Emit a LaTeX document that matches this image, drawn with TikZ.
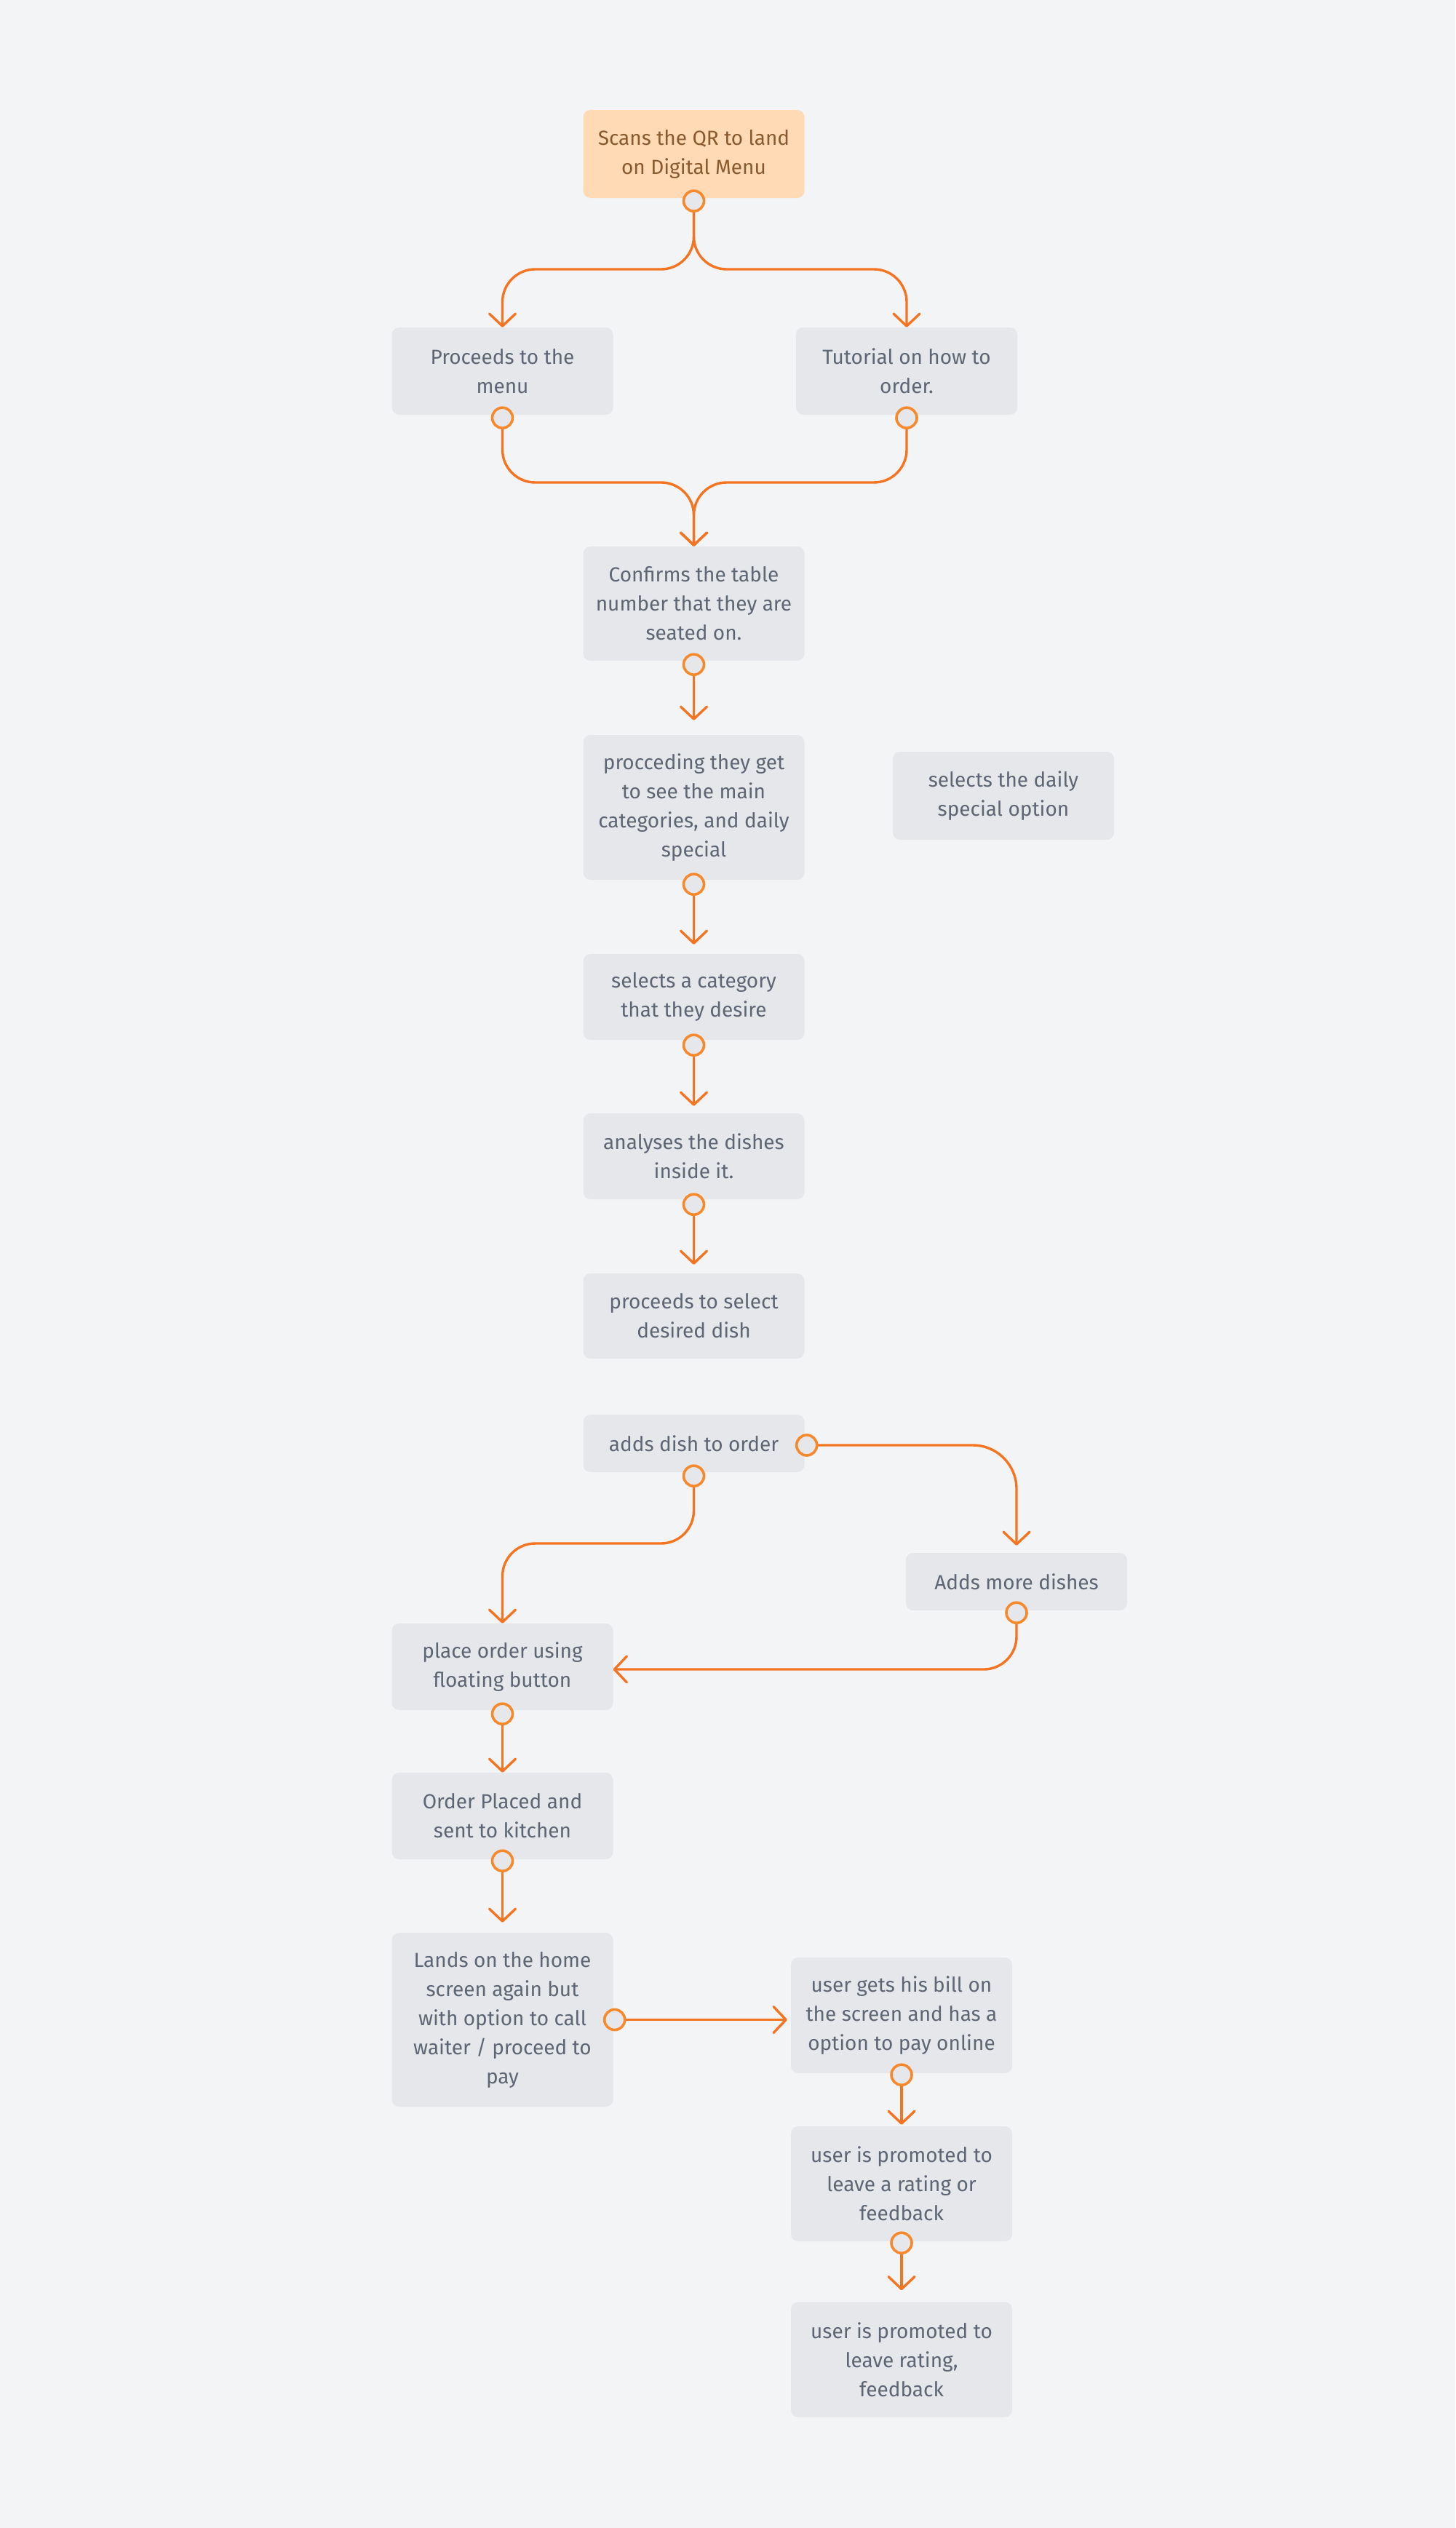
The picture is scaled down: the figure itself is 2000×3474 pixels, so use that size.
\documentclass[tikz,border=0pt]{standalone}
\usepackage{fontspec}
\setmainfont{Fira Sans}
\usetikzlibrary{arrows.meta}
\definecolor{bgc}{HTML}{F3F4F6}
\definecolor{boxfill}{HTML}{E5E7EB}
\definecolor{txt}{HTML}{5E6573}
\definecolor{startfill}{HTML}{FFDAB5}
\definecolor{starttxt}{HTML}{8A5A2E}
\definecolor{ln}{HTML}{F47421}
\definecolor{portc}{HTML}{F6892C}
\begin{document}
\begin{tikzpicture}[x=1pt,y=-1pt,
  box/.style={fill=boxfill, rounded corners=10pt, minimum width=304pt, inner sep=0pt,
    align=center, text=txt, font=\fontsize{28}{40}\selectfont},
  startbox/.style={box, fill=startfill, text=starttxt},
  conn/.style={draw=ln, line width=3.4pt, rounded corners=45pt,
    -{Straight Barb[length=17pt,width=36pt,round]}},
  port/.style={circle, draw=portc, fill=boxfill, line width=3.6pt, minimum size=28pt, inner sep=0pt}]
\fill[bgc] (0,0) rectangle (2000,3474);
\useasboundingbox (0,0) rectangle (2000,3474);

% boxes
\node[startbox, minimum height=121pt] (A) at (953.5,211.5) {Scans the QR to land\\on Digital Menu};
\node[box, minimum height=120pt] (B) at (690.5,510) {Proceeds to the\\menu};
\node[box, minimum height=120pt] (C) at (1246,510) {Tutorial on how to\\order.};
\node[box, minimum height=157pt] (D) at (953.5,829.5) {Confirms the table\\number that they are\\seated on.};
\node[box, minimum height=199pt] (E) at (953.5,1109.5) {procceding they get\\to see the main\\categories, and daily\\special};
\node[box, minimum height=121pt] (F) at (1379,1093.5) {selects the daily\\special option};
\node[box, minimum height=118pt] (G) at (953.5,1370) {selects a category\\that they desire};
\node[box, minimum height=118pt] (H) at (953.5,1589) {analyses the dishes\\inside it.};
\node[box, minimum height=117pt] (I) at (953.5,1808.5) {proceeds to select\\desired dish};
\node[box, minimum height=79pt] (J) at (953.5,1983.5) {adds dish to order};
\node[box, minimum height=79pt] (K) at (1397,2173.5) {Adds more dishes};
\node[box, minimum height=119pt] (L) at (690.5,2290.5) {place order using\\floating button};
\node[box, minimum height=119pt] (M) at (690.5,2495.5) {Order Placed and\\sent to kitchen};
\node[box, minimum height=239pt] (N) at (690.5,2775.5) {Lands on the home\\screen again but\\with option to call\\waiter / proceed to\\pay};
\node[box, minimum height=159pt] (O) at (1239,2769.5) {user gets his bill on\\the screen and has a\\option to pay online};
\node[box, minimum height=158pt] (P) at (1239,3001) {user is promoted to\\leave a rating or\\feedback};
\node[box, minimum height=158pt] (Q) at (1239,3242.5) {user is promoted to\\leave rating,\\feedback};

% port positions
\coordinate (Ap) at ([yshift=-4pt]A.south);
\coordinate (Bp) at ([yshift=-4pt]B.south);
\coordinate (Cp) at ([yshift=-4pt]C.south);
\coordinate (Dp) at ([yshift=-5pt]D.south);
\coordinate (Ep) at ([yshift=-6pt]E.south);
\coordinate (Gp) at ([yshift=-7pt]G.south);
\coordinate (Hp) at ([yshift=-7pt]H.south);
\coordinate (Jp) at ([yshift=-5pt]J.south);
\coordinate (Jr) at ([xshift=3pt,yshift=-2.5pt]J.east);
\coordinate (Kp) at ([yshift=-3pt]K.south);
\coordinate (Lp) at ([yshift=-5pt]L.south);
\coordinate (Mp) at ([yshift=-2pt]M.south);
\coordinate (Nr) at ([xshift=2pt]N.east);
\coordinate (Op) at ([yshift=-2pt]O.south);
\coordinate (Pp) at ([yshift=-2pt]P.south);

% bend levels
\coordinate (yA) at (0,370);
\coordinate (yB) at (0,663);
\coordinate (yJ) at (0,2121);
\coordinate (yK) at (0,2294);
\coordinate (Oin) at ([xshift=-5pt]O.west);

% connectors
\draw[conn] (Ap) -- (Ap |- yA) -- (B.north |- yA) -- (B.north);
\draw[conn] (Ap) -- (Ap |- yA) -- (C.north |- yA) -- (C.north);
\draw[conn] (Bp) -- (Bp |- yB) -- (D.north |- yB) -- (D.north);
\draw[conn] (Cp) -- (Cp |- yB) -- (D.north |- yB) -- (D.north);
\draw[conn] (Dp) -- ([yshift=20pt]E.north);
\draw[conn] (Ep) -- ([yshift=13pt]G.north);
\draw[conn] (Gp) -- ([yshift=10pt]H.north);
\draw[conn] (Hp) -- ([yshift=12pt]I.north);
\draw[conn, rounded corners=60pt] (Jr) -- (Jr -| K.north) -- ([yshift=10pt]K.north);
\draw[conn] (Jp) -- (Jp |- yJ) -- (L.north |- yJ) -- (L.north);
\draw[conn] (Kp) -- (Kp |- yK) -- (L.east |- yK);
\draw[conn] (Lp) -- (M.north);
\draw[conn] (Mp) -- ([yshift=14pt]N.north);
\draw[conn] (Nr) -- (Oin |- Nr);
\draw[conn] (Op) -- ([yshift=2pt]P.north);
\draw[conn] (Pp) -- ([yshift=16pt]Q.north);

% port circles
\foreach \p in {Ap,Bp,Cp,Dp,Ep,Gp,Hp,Jp,Jr,Kp,Lp,Mp,Nr,Op,Pp}
  \node[port] (c\p) at (\p) {};
\end{tikzpicture}
\end{document}
